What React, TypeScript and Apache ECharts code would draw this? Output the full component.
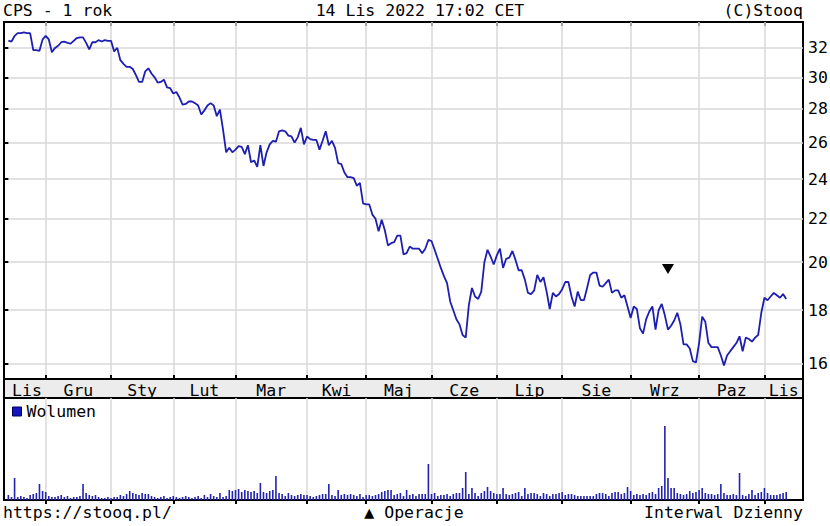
import React, { useEffect, useRef } from "react";
import * as echarts from "echarts";

// Month names (Polish abbreviations) and number of trading sessions per month shown
const MONTHS = ["Lis", "Gru", "Sty", "Lut", "Mar", "Kwi", "Maj", "Cze", "Lip", "Sie", "Wrz", "Paz", "Lis"];
const TRADING_DAYS = [12, 21, 20, 20, 23, 19, 21, 21, 21, 22, 22, 21, 8];

// Right axis tick labels (log scale)
const PRICE_TICKS = [16, 18, 20, 22, 24, 26, 28, 30, 32];

// Daily closing prices, 15 Nov 2021 - 14 Nov 2022
const CLOSE = [
  32.52, 32.45, 32.85, 33.05, 33.05, 33.1, 33.05, 33.05, 31.85, 31.85,
  31.8, 32.6, 32.85, 32.6, 31.7, 32.0, 32.15, 32.4, 32.45, 32.35,
  32.3, 32.5, 32.7, 32.75, 32.75, 32.35, 31.9, 32.4, 32.4, 32.55,
  32.45, 32.55, 32.5, 32.5, 31.75, 32.0, 31.15, 30.9, 30.7, 30.7,
  30.55, 30.15, 29.7, 29.7, 30.4, 30.6, 30.25, 30.0, 29.65, 29.7,
  29.85, 29.35, 29.3, 28.95, 29.05, 28.7, 28.25, 28.3, 28.45, 28.45,
  28.35, 28.2, 27.65, 27.9, 28.2, 28.35, 28.2, 27.55, 27.95, 26.75,
  25.45, 25.7, 25.45, 25.6, 25.8, 25.75, 25.35, 25.85, 24.9, 25.0,
  24.65, 25.85, 24.7, 25.45, 25.9, 26.1, 26.05, 26.65, 26.7, 26.65,
  26.4, 26.35, 26.0, 26.3, 26.85, 25.9, 26.35, 26.2, 26.15, 26.15,
  25.6, 26.1, 26.65, 25.85, 26.1, 25.7, 24.85, 24.8, 24.35, 24.1,
  24.1, 24.05, 23.65, 23.8, 22.75, 22.7, 22.7, 22.2, 22.0, 21.4,
  21.95, 21.45, 20.75, 20.85, 20.9, 21.2, 21.2, 20.35, 20.4, 20.7,
  20.6, 20.6, 20.6, 20.4, 20.6, 21.0, 20.95, 20.55, 20.15, 19.75,
  19.4, 19.1, 18.35, 18.0, 17.65, 17.45, 17.05, 16.95, 18.2, 18.9,
  18.55, 18.45, 18.75, 20.0, 20.55, 20.25, 19.9, 20.3, 20.6, 19.75,
  20.15, 20.2, 20.5, 20.1, 19.65, 19.65, 19.25, 18.7, 18.65, 18.8,
  19.45, 19.15, 19.35, 18.75, 18.05, 18.7, 18.55, 18.65, 18.85, 19.15,
  19.15, 18.55, 18.15, 18.75, 18.4, 18.4, 18.9, 19.45, 19.55, 19.55,
  19.0, 18.95, 19.1, 19.25, 18.7, 18.8, 18.8, 18.5, 18.6, 18.15,
  17.7, 18.15, 18.05, 17.3, 17.1, 17.65, 17.95, 18.15, 17.25, 18.0,
  18.25, 17.8, 17.25, 17.4, 17.6, 17.9, 17.45, 16.7, 16.7, 16.55,
  16.1, 16.05, 16.75, 17.75, 17.55, 16.75, 16.6, 16.6, 16.6, 16.3,
  15.95, 16.3, 16.45, 16.6, 16.75, 17.0, 16.45, 16.95, 16.9, 16.8,
  16.95, 17.05, 17.9, 18.5, 18.4, 18.55, 18.7, 18.6, 18.5, 18.65,
  18.45,
];

// Daily volume (relative units)
const VOLUME = [
  5, 3, 22, 3, 4, 3, 2, 5, 6, 7,
  16, 9, 8, 4, 3, 3, 4, 5, 3, 4,
  2, 3, 3, 4, 16, 7, 5, 4, 5, 3,
  2, 2, 3, 2, 3, 3, 5, 4, 6, 9,
  7, 6, 5, 7, 6, 6, 4, 3, 2, 3,
  4, 2, 3, 4, 3, 2, 3, 4, 3, 2,
  3, 4, 2, 5, 3, 6, 4, 3, 7, 3,
  4, 10, 9, 10, 11, 8, 10, 9, 8, 9,
  7, 17, 8, 7, 9, 10, 24, 7, 6, 4,
  7, 5, 4, 5, 6, 5, 5, 4, 3, 4,
  5, 6, 6, 16, 5, 4, 10, 5, 6, 5,
  6, 5, 4, 6, 3, 5, 5, 4, 5, 6,
  8, 9, 10, 10, 5, 6, 7, 4, 10, 5,
  6, 4, 6, 6, 6, 36, 6, 7, 4, 5,
  5, 6, 4, 6, 7, 7, 12, 28, 6, 12,
  7, 4, 7, 9, 13, 9, 7, 6, 6, 12,
  6, 5, 6, 7, 8, 4, 12, 6, 7, 7,
  6, 4, 7, 6, 4, 6, 6, 7, 8, 5,
  6, 6, 5, 4, 4, 4, 4, 4, 4, 6,
  7, 7, 6, 4, 7, 8, 8, 6, 7, 13,
  9, 5, 6, 5, 6, 5, 7, 8, 6, 12,
  14, 74, 22, 12, 12, 7, 6, 5, 6, 9,
  7, 8, 10, 12, 7, 6, 6, 5, 6, 16,
  7, 5, 5, 6, 5, 27, 5, 4, 6, 10,
  5, 7, 8, 12, 7, 5, 5, 5, 6, 7,
  8,
];

// Operation markers (session index, price level)
const OPERATIONS = [{ day: 212, price: 19.7 }];

const FONT = '"DejaVu Sans Mono", "Liberation Mono", monospace';
const FS = 16.5;

export default function App() {
  const ref = useRef<HTMLDivElement>(null);

  useEffect(() => {
    if (!ref.current) return;
    const chart = echarts.init(ref.current, undefined, { renderer: "svg" });

    // month start session indexes and label centers
    const starts: number[] = [];
    let acc = 0;
    for (const d of TRADING_DAYS) {
      starts.push(acc);
      acc += d;
    }
    const X_MIN = -1.4;
    const X_MAX = 255.4;
    const boundaries = starts.slice(1);
    const labelPos = starts.map((s, k) => {
      const e = k + 1 < starts.length ? starts[k + 1] : X_MAX;
      return (s + e) / 2;
    });

    const P_MIN = 15.48;
    const P_MAX = 33.87;
    const lnTicks = PRICE_TICKS.map((t) => Math.log(t));

    const gridLine = { color: "#d9d9d9", width: 1.5 };
    const tickLine = { color: "#000", width: 2 };

    const option: any = {
      animation: false,
      backgroundColor: "#fff",
      textStyle: { fontFamily: FONT },
      grid: [
        { left: 4, top: 22, width: 799, height: 357, show: true, borderColor: "#000", borderWidth: 2, backgroundColor: "transparent", containLabel: false, outerBoundsMode: "none", z: 0 },
        { left: 4, top: 379, width: 799, height: 19, show: true, borderColor: "#000", borderWidth: 2, backgroundColor: "#ececec", containLabel: false, outerBoundsMode: "none", z: 0 },
        { left: 4, top: 398, width: 799, height: 102, show: true, borderColor: "#000", borderWidth: 2, backgroundColor: "transparent", containLabel: false, outerBoundsMode: "none", z: 0 },
      ],
      legend: {
        data: [{ name: "Wolumen", icon: "rect", itemStyle: { color: "#1515c0", borderColor: "#00005a", borderWidth: 1 } }],
        left: 12,
        top: 403,
        padding: 0,
        itemWidth: 9,
        itemHeight: 9,
        itemGap: 10,
        selectedMode: false,
        textStyle: { fontFamily: FONT, fontSize: FS, color: "#000", padding: [0, 0, 0, 0] },
      },
      xAxis: [
        {
          gridIndex: 0, type: "value", position: "bottom", min: X_MIN, max: X_MAX, z: 5,
          axisLine: { show: false },
          axisTick: { show: true, inside: true, length: 4, customValues: boundaries, lineStyle: tickLine },
          axisLabel: {
            show: true, customValues: labelPos, margin: 3,
            fontFamily: FONT, fontSize: FS, color: "#000",
            formatter: (v: number) => {
              const k = labelPos.findIndex((p) => Math.abs(p - v) < 1e-6);
              return k >= 0 ? MONTHS[k] : "";
            },
          },
          splitLine: { show: true, lineStyle: gridLine },
        },
        {
          gridIndex: 0, type: "value", position: "top", min: X_MIN, max: X_MAX,
          axisLine: { show: false },
          axisTick: { show: true, inside: true, length: 4, customValues: boundaries, lineStyle: tickLine },
          axisLabel: { show: false },
          splitLine: { show: false },
        },
        { gridIndex: 1, type: "value", min: X_MIN, max: X_MAX, show: false },
        {
          gridIndex: 2, type: "value", position: "top", min: X_MIN, max: X_MAX,
          axisLine: { show: false },
          axisTick: { show: true, inside: true, length: 4, customValues: boundaries, lineStyle: tickLine },
          axisLabel: { show: false },
          splitLine: { show: true, lineStyle: gridLine },
        },
      ],
      yAxis: [
        { gridIndex: 0, type: "log", min: P_MIN, max: P_MAX, show: false },
        {
          gridIndex: 0, type: "value", position: "right", min: Math.log(P_MIN), max: Math.log(P_MAX),
          axisLine: { show: false },
          axisTick: { show: true, inside: true, length: 4, customValues: lnTicks, lineStyle: tickLine },
          axisLabel: {
            show: true, customValues: lnTicks, margin: 5, fontFamily: FONT, fontSize: FS, color: "#000",
            formatter: (v: number) => String(Math.round(Math.exp(v))),
          },
          splitLine: { show: true, lineStyle: gridLine },
        },
        {
          gridIndex: 0, type: "value", position: "left", min: Math.log(P_MIN), max: Math.log(P_MAX),
          axisLine: { show: false },
          axisTick: { show: true, inside: true, length: 4, customValues: lnTicks, lineStyle: tickLine },
          axisLabel: { show: false },
          splitLine: { show: false },
        },
        { gridIndex: 1, type: "value", min: 0, max: 1, show: false },
        { gridIndex: 2, type: "value", min: 0, max: 102, show: false },
      ],
      series: [
        {
          name: "CPS", type: "line", xAxisIndex: 0, yAxisIndex: 0,
          data: CLOSE.map((v, i) => [i, v]),
          showSymbol: false, symbol: "none",
          lineStyle: { color: "#1e1eb0", width: 1.8 },
          z: 5,
        },
        {
          name: "Operacje", type: "scatter", xAxisIndex: 0, yAxisIndex: 0,
          data: OPERATIONS.map((o) => [o.day, o.price]),
          symbol: "triangle", symbolRotate: 180, symbolSize: [12, 10],
          itemStyle: { color: "#000", opacity: 1 },
          z: 6,
        },
        {
          name: "Wolumen", type: "bar", xAxisIndex: 3, yAxisIndex: 4,
          data: VOLUME.map((v, i) => [i, v]),
          barWidth: 1.6,
          itemStyle: { color: "#2323b0" },
          z: 5,
        },
      ],
      graphic: [
        { type: "text", x: 3, y: 10, style: { text: "CPS - 1 rok", font: `${FS}px ${FONT}`, fill: "#000", align: "left", verticalAlign: "middle" } },
        { type: "text", x: 420, y: 10, style: { text: "14 Lis 2022 17:02 CET", font: `${FS}px ${FONT}`, fill: "#000", align: "center", verticalAlign: "middle" } },
        { type: "text", x: 803, y: 10, style: { text: "(C)Stooq", font: `${FS}px ${FONT}`, fill: "#000", align: "right", verticalAlign: "middle" } },
        { type: "text", x: 3, y: 512, style: { text: "https://stooq.pl/", font: `${FS}px ${FONT}`, fill: "#000", align: "left", verticalAlign: "middle" } },
        { type: "text", x: 414, y: 512, style: { text: "▲ Operacje", font: `${FS}px ${FONT}`, fill: "#000", align: "center", verticalAlign: "middle" } },
        { type: "text", x: 803, y: 512, style: { text: "Interwal Dzienny", font: `${FS}px ${FONT}`, fill: "#000", align: "right", verticalAlign: "middle" } },
      ],
    };

    chart.setOption(option);
    return () => chart.dispose();
  }, []);

  return (
    <div
      ref={ref}
      style={{ position: "fixed", left: 0, top: 0, width: 830, height: 526, background: "#fff" }}
    />
  );
}
